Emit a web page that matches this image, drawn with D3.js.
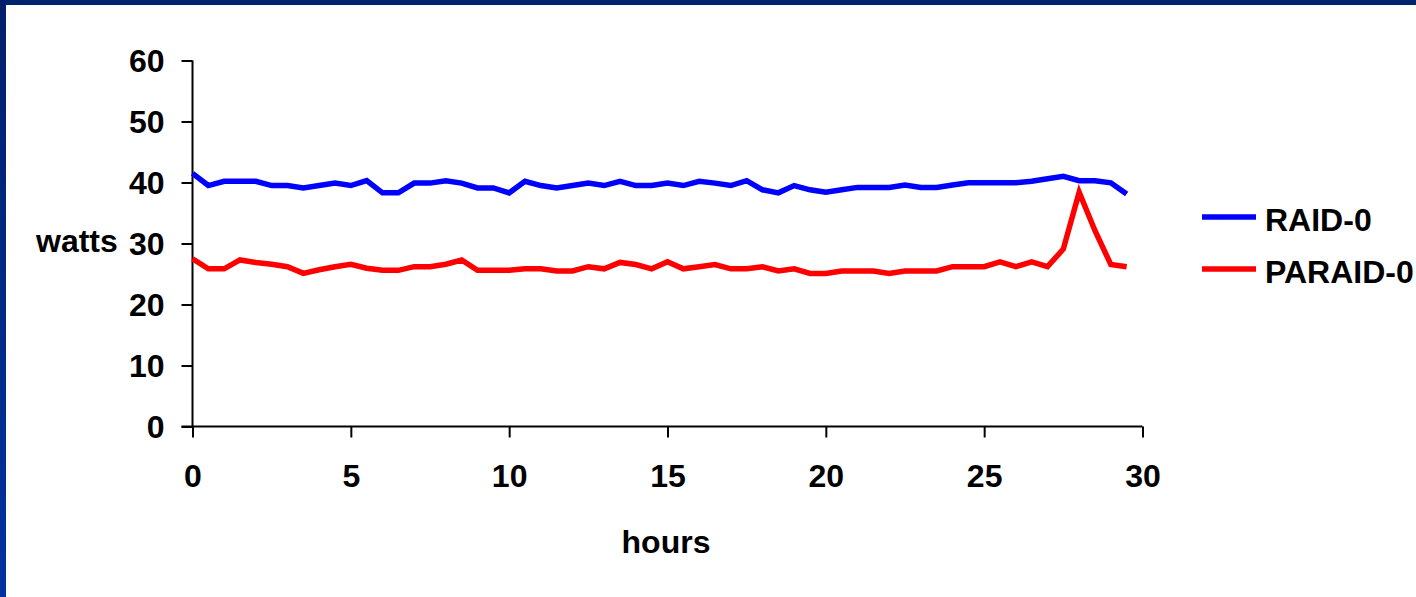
<!DOCTYPE html>
<html>
<head>
<meta charset="utf-8">
<script src="https://cdn.jsdelivr.net/npm/d3@7"></script>
<style>
  html, body { margin: 0; padding: 0; background: #fff; }
  svg { display: block; }
  text { font-family: "Liberation Sans", Arial, sans-serif; font-weight: bold; fill: #000; }
</style>
</head>
<body>
<svg id="chart" width="1416" height="597"></svg>
<script>
// Readings every half hour, 0 to 29.5 hours
const hours = d3.range(0, 30, 0.5);

const raid0 = [
  41.5, 39.5, 40.2, 40.2, 40.2, 39.5, 39.5, 39.1, 39.5, 39.9,
  39.5, 40.3, 38.3, 38.3, 39.9, 39.9, 40.3, 39.9, 39.1, 39.1,
  38.3, 40.2, 39.5, 39.1, 39.5, 39.9, 39.5, 40.2, 39.5, 39.5,
  39.9, 39.5, 40.2, 39.9, 39.5, 40.3, 38.8, 38.3, 39.5, 38.8,
  38.4, 38.8, 39.2, 39.2, 39.2, 39.6, 39.2, 39.2, 39.6, 39.95,
  39.95, 39.95, 39.95, 40.2, 40.6, 41.0, 40.3, 40.3, 39.95, 38.1
];

const paraid0 = [
  27.5, 25.85, 25.85, 27.3, 26.9, 26.6, 26.2, 25.1, 25.7, 26.2,
  26.6, 25.95, 25.6, 25.6, 26.2, 26.2, 26.6, 27.3, 25.6, 25.6,
  25.6, 25.85, 25.85, 25.5, 25.5, 26.2, 25.85, 26.9, 26.55, 25.85,
  27.0, 25.85, 26.2, 26.55, 25.85, 25.85, 26.2, 25.5, 25.85, 25.1,
  25.1, 25.5, 25.5, 25.5, 25.1, 25.5, 25.5, 25.5, 26.2, 26.2,
  26.2, 27.0, 26.2, 27.0, 26.2, 29.1, 38.4, 32.1, 26.55, 26.2
];

const xTicks = [0, 5, 10, 15, 20, 25, 30];
const yTicks = [0, 10, 20, 30, 40, 50, 60];

const seriesNames = ["RAID-0", "PARAID-0"];
const seriesColors = ["#0000ff", "#ff0000"];
const seriesValues = [raid0, paraid0];

const svg = d3.select("#chart");
const W = 1416, H = 597;
const FONT = "32px";

// Slide frame: dark blue band across the top and down the left edge
const defs = svg.append("defs");
const grad = defs.append("linearGradient").attr("id", "sideBand")
  .attr("x1", 0).attr("y1", 0).attr("x2", 0).attr("y2", 1);
grad.append("stop").attr("offset", "0%").attr("stop-color", "#00206c");
grad.append("stop").attr("offset", "100%").attr("stop-color", "#0033a0");

svg.append("rect").attr("x", 0).attr("y", 0).attr("width", W).attr("height", H).attr("fill", "#fff");
svg.append("rect").attr("x", 0).attr("y", 0).attr("width", W).attr("height", 5).attr("fill", "#00236f");
svg.append("rect").attr("x", 0).attr("y", 0).attr("width", 6).attr("height", H).attr("fill", "url(#sideBand)");

const x = d3.scaleLinear().domain([0, 30]).range([192.5, 1142.5]);
const y = d3.scaleLinear().domain([0, 60]).range([426.5, 60.5]);

// Y axis
const yAxis = svg.append("g")
  .attr("transform", `translate(${x(0)},0)`)
  .call(d3.axisLeft(y).tickValues(yTicks).tickSize(11).tickPadding(17).tickFormat(d3.format("d")));
yAxis.select(".domain").attr("d", `M0,${y(60)}H0V${y(0)}`);

// X axis (extends left past the y axis, like the tick marks)
const xAxis = svg.append("g")
  .attr("transform", `translate(0,${y(0)})`)
  .call(d3.axisBottom(x).tickValues(xTicks).tickSize(11).tickPadding(27).tickFormat(d3.format("d")));
xAxis.select(".domain").attr("d", `M${x(0) - 11},0H${x(30)}`);

[yAxis, xAxis].forEach(g => {
  g.select(".domain").attr("stroke", "#000").attr("stroke-width", 2).attr("fill", "none");
  g.selectAll(".tick line").attr("stroke", "#000").attr("stroke-width", 2);
  g.selectAll(".tick text")
    .style("font-family", "'Liberation Sans', Arial, sans-serif")
    .style("font-weight", "bold")
    .style("font-size", FONT)
    .attr("fill", "#000");
});
yAxis.selectAll(".tick text").attr("dy", "0.35em");
xAxis.selectAll(".tick text").attr("dy", "0.71em");

// Series lines
const line = d3.line()
  .x((d, i) => x(hours[i]))
  .y(d => y(d));

seriesValues.forEach((vals, k) => {
  svg.append("path")
    .datum(vals)
    .attr("fill", "none")
    .attr("stroke", seriesColors[k])
    .attr("stroke-width", 5.5)
    .attr("stroke-linejoin", "miter")
    .attr("d", line);
});

// Axis titles
svg.append("text")
  .attr("x", 36).attr("y", 252)
  .attr("text-anchor", "start")
  .style("font-size", FONT)
  .text("watts");

svg.append("text")
  .attr("x", 666).attr("y", 553)
  .attr("text-anchor", "middle")
  .style("font-size", FONT)
  .text("hours");

// Legend
const legend = svg.append("g");
seriesNames.forEach((name, k) => {
  const ly = 217 + k * 52;
  legend.append("line")
    .attr("x1", 1202).attr("x2", 1256)
    .attr("y1", ly).attr("y2", ly)
    .attr("stroke", seriesColors[k]).attr("stroke-width", 5.5);
  legend.append("text")
    .attr("x", 1265).attr("y", ly + 14)
    .style("font-size", FONT)
    .text(name);
});
</script>
</body>
</html>
